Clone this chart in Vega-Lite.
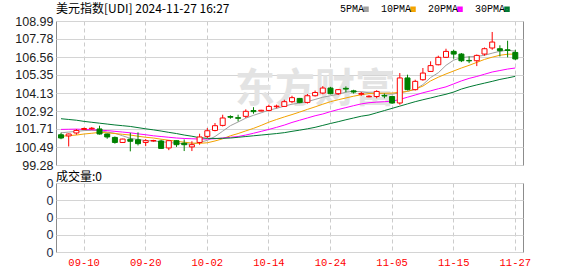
{
  "$schema": "https://vega.github.io/schema/vega-lite/v6.json",
  "background": "white",
  "padding": {"left": 0, "top": 2, "right": 0, "bottom": 0},
  "autosize": {"type": "pad"},
  "spacing": -2,
  "config": {
    "view": {"stroke": "#8c8c8c", "strokeWidth": 1},
    "legend": {"orient": "none"}
  },
  "datasets": {
    "k": [
      {"d":"09-05","o":101.32,"h":101.46,"l":101.02,"c":101.10,"5PMA":101.45,"10PMA":101.21,"20PMA":101.68,"30PMA":102.40,"v":0},
      {"d":"09-06","o":101.24,"h":101.40,"l":100.53,"c":101.37,"5PMA":101.50,"10PMA":101.26,"20PMA":101.69,"30PMA":102.35,"v":0},
      {"d":"09-09","o":101.44,"h":101.70,"l":101.32,"c":101.61,"5PMA":101.55,"10PMA":101.30,"20PMA":101.70,"30PMA":102.30,"v":0},
      {"d":"09-10","o":101.68,"h":101.80,"l":101.65,"c":101.74,"5PMA":101.60,"10PMA":101.37,"20PMA":101.68,"30PMA":102.22,"v":0},
      {"d":"09-11","o":101.72,"h":101.84,"l":101.66,"c":101.76,"5PMA":101.62,"10PMA":101.42,"20PMA":101.66,"30PMA":102.16,"v":0},
      {"d":"09-12","o":101.71,"h":101.93,"l":101.33,"c":101.37,"5PMA":101.60,"10PMA":101.48,"20PMA":101.63,"30PMA":102.10,"v":0},
      {"d":"09-13","o":101.37,"h":101.40,"l":101.05,"c":101.17,"5PMA":101.50,"10PMA":101.45,"20PMA":101.60,"30PMA":102.04,"v":0},
      {"d":"09-16","o":101.14,"h":101.20,"l":100.72,"c":100.80,"5PMA":101.42,"10PMA":101.40,"20PMA":101.55,"30PMA":101.98,"v":0},
      {"d":"09-17","o":100.80,"h":101.05,"l":100.78,"c":101.03,"5PMA":101.25,"10PMA":101.35,"20PMA":101.50,"30PMA":101.93,"v":0},
      {"d":"09-18","o":101.02,"h":101.45,"l":100.20,"c":100.88,"5PMA":101.08,"10PMA":101.30,"20PMA":101.45,"30PMA":101.88,"v":0},
      {"d":"09-19","o":100.98,"h":101.48,"l":100.60,"c":100.72,"5PMA":101.00,"10PMA":101.22,"20PMA":101.38,"30PMA":101.80,"v":0},
      {"d":"09-20","o":100.80,"h":101.03,"l":100.55,"c":100.92,"5PMA":100.93,"10PMA":101.15,"20PMA":101.32,"30PMA":101.72,"v":0},
      {"d":"09-23","o":100.90,"h":100.98,"l":100.85,"c":100.93,"5PMA":100.90,"10PMA":101.10,"20PMA":101.25,"30PMA":101.65,"v":0},
      {"d":"09-24","o":100.90,"h":100.98,"l":100.38,"c":100.40,"5PMA":100.85,"10PMA":101.02,"20PMA":101.20,"30PMA":101.57,"v":0},
      {"d":"09-25","o":100.43,"h":100.95,"l":100.28,"c":100.92,"5PMA":100.80,"10PMA":100.95,"20PMA":101.15,"30PMA":101.48,"v":0},
      {"d":"09-26","o":100.92,"h":100.95,"l":100.50,"c":100.65,"5PMA":100.75,"10PMA":100.88,"20PMA":101.10,"30PMA":101.40,"v":0},
      {"d":"09-27","o":100.75,"h":101.00,"l":100.22,"c":100.65,"5PMA":100.72,"10PMA":100.82,"20PMA":101.07,"30PMA":101.30,"v":0},
      {"d":"09-30","o":100.50,"h":100.88,"l":100.22,"c":100.65,"5PMA":100.68,"10PMA":100.76,"20PMA":101.05,"30PMA":101.22,"v":0},
      {"d":"10-01","o":100.80,"h":101.39,"l":100.65,"c":101.17,"5PMA":100.81,"10PMA":100.74,"20PMA":101.03,"30PMA":101.12,"v":0},
      {"d":"10-02","o":101.21,"h":101.77,"l":101.10,"c":101.59,"5PMA":100.94,"10PMA":100.78,"20PMA":101.03,"30PMA":101.08,"v":0},
      {"d":"10-03","o":101.61,"h":102.11,"l":101.55,"c":101.93,"5PMA":101.20,"10PMA":100.90,"20PMA":101.05,"30PMA":101.07,"v":0},
      {"d":"10-04","o":101.95,"h":102.67,"l":101.88,"c":102.45,"5PMA":101.56,"10PMA":101.05,"20PMA":101.10,"30PMA":101.08,"v":0},
      {"d":"10-07","o":102.55,"h":102.63,"l":102.40,"c":102.50,"5PMA":101.93,"10PMA":101.25,"20PMA":101.15,"30PMA":101.10,"v":0},
      {"d":"10-08","o":102.47,"h":102.67,"l":102.22,"c":102.43,"5PMA":102.18,"10PMA":101.40,"20PMA":101.20,"30PMA":101.15,"v":0},
      {"d":"10-09","o":102.56,"h":103.03,"l":102.45,"c":102.90,"5PMA":102.44,"10PMA":101.58,"20PMA":101.30,"30PMA":101.20,"v":0},
      {"d":"10-10","o":102.95,"h":103.18,"l":102.74,"c":102.88,"5PMA":102.63,"10PMA":101.75,"20PMA":101.42,"30PMA":101.25,"v":0},
      {"d":"10-11","o":102.92,"h":103.00,"l":102.90,"c":102.97,"5PMA":102.80,"10PMA":101.95,"20PMA":101.55,"30PMA":101.30,"v":0},
      {"d":"10-14","o":102.96,"h":103.35,"l":102.90,"c":103.23,"5PMA":102.98,"10PMA":102.17,"20PMA":101.68,"30PMA":101.35,"v":0},
      {"d":"10-15","o":103.21,"h":103.35,"l":103.10,"c":103.25,"5PMA":103.10,"10PMA":102.35,"20PMA":101.82,"30PMA":101.40,"v":0},
      {"d":"10-16","o":103.23,"h":103.68,"l":103.19,"c":103.55,"5PMA":103.25,"10PMA":102.52,"20PMA":101.97,"30PMA":101.46,"v":0},
      {"d":"10-17","o":103.55,"h":103.95,"l":103.45,"c":103.82,"5PMA":103.38,"10PMA":102.68,"20PMA":102.15,"30PMA":101.55,"v":0},
      {"d":"10-18","o":103.77,"h":103.80,"l":103.45,"c":103.50,"5PMA":103.45,"10PMA":102.85,"20PMA":102.30,"30PMA":101.63,"v":0},
      {"d":"10-21","o":103.50,"h":104.07,"l":103.42,"c":103.95,"5PMA":103.55,"10PMA":103.03,"20PMA":102.45,"30PMA":101.72,"v":0},
      {"d":"10-22","o":103.95,"h":104.30,"l":103.90,"c":104.17,"5PMA":103.70,"10PMA":103.20,"20PMA":102.60,"30PMA":101.82,"v":0},
      {"d":"10-23","o":104.13,"h":104.60,"l":104.05,"c":104.47,"5PMA":103.85,"10PMA":103.38,"20PMA":102.72,"30PMA":101.95,"v":0},
      {"d":"10-24","o":104.47,"h":104.55,"l":104.05,"c":104.09,"5PMA":103.95,"10PMA":103.55,"20PMA":102.88,"30PMA":102.08,"v":0},
      {"d":"10-25","o":104.09,"h":104.40,"l":104.00,"c":104.36,"5PMA":104.05,"10PMA":103.68,"20PMA":103.02,"30PMA":102.20,"v":0},
      {"d":"10-28","o":104.45,"h":104.58,"l":104.18,"c":104.40,"5PMA":104.20,"10PMA":103.80,"20PMA":103.15,"30PMA":102.33,"v":0},
      {"d":"10-29","o":104.28,"h":104.35,"l":104.10,"c":104.20,"5PMA":104.25,"10PMA":103.92,"20PMA":103.28,"30PMA":102.45,"v":0},
      {"d":"10-30","o":104.05,"h":104.20,"l":103.95,"c":104.10,"5PMA":104.22,"10PMA":104.02,"20PMA":103.40,"30PMA":102.57,"v":0},
      {"d":"10-31","o":103.88,"h":103.98,"l":103.85,"c":103.92,"5PMA":104.15,"10PMA":104.10,"20PMA":103.48,"30PMA":102.65,"v":0},
      {"d":"11-01","o":103.90,"h":104.32,"l":103.78,"c":104.24,"5PMA":104.12,"10PMA":104.12,"20PMA":103.52,"30PMA":102.80,"v":0},
      {"d":"11-04","o":103.97,"h":104.10,"l":103.78,"c":103.93,"5PMA":104.08,"10PMA":104.12,"20PMA":103.55,"30PMA":102.95,"v":0},
      {"d":"11-05","o":103.90,"h":103.95,"l":103.40,"c":103.46,"5PMA":104.05,"10PMA":104.13,"20PMA":103.58,"30PMA":103.10,"v":0},
      {"d":"11-06","o":103.46,"h":105.48,"l":103.35,"c":105.15,"5PMA":104.15,"10PMA":104.18,"20PMA":103.70,"30PMA":103.25,"v":0},
      {"d":"11-07","o":105.15,"h":105.37,"l":104.31,"c":104.36,"5PMA":104.25,"10PMA":104.24,"20PMA":103.85,"30PMA":103.40,"v":0},
      {"d":"11-08","o":104.36,"h":105.03,"l":104.30,"c":104.92,"5PMA":104.38,"10PMA":104.40,"20PMA":104.00,"30PMA":103.55,"v":0},
      {"d":"11-11","o":105.03,"h":105.82,"l":104.96,"c":105.48,"5PMA":104.70,"10PMA":104.60,"20PMA":104.15,"30PMA":103.68,"v":0},
      {"d":"11-12","o":105.59,"h":106.27,"l":105.55,"c":105.98,"5PMA":105.18,"10PMA":104.95,"20PMA":104.28,"30PMA":103.80,"v":0},
      {"d":"11-13","o":106.04,"h":106.65,"l":106.00,"c":106.54,"5PMA":105.50,"10PMA":105.20,"20PMA":104.42,"30PMA":103.93,"v":0},
      {"d":"11-14","o":106.54,"h":107.12,"l":106.50,"c":106.94,"5PMA":106.00,"10PMA":105.42,"20PMA":104.55,"30PMA":104.05,"v":0},
      {"d":"11-15","o":106.94,"h":107.05,"l":106.45,"c":106.76,"5PMA":106.35,"10PMA":105.62,"20PMA":104.75,"30PMA":104.20,"v":0},
      {"d":"11-18","o":106.76,"h":106.83,"l":106.22,"c":106.31,"5PMA":106.52,"10PMA":105.82,"20PMA":104.95,"30PMA":104.40,"v":0},
      {"d":"11-19","o":106.33,"h":106.60,"l":106.15,"c":106.30,"5PMA":106.58,"10PMA":106.00,"20PMA":105.12,"30PMA":104.55,"v":0},
      {"d":"11-20","o":106.31,"h":106.73,"l":105.95,"c":106.67,"5PMA":106.60,"10PMA":106.20,"20PMA":105.25,"30PMA":104.68,"v":0},
      {"d":"11-21","o":106.76,"h":107.20,"l":106.65,"c":107.12,"5PMA":106.68,"10PMA":106.40,"20PMA":105.40,"30PMA":104.80,"v":0},
      {"d":"11-22","o":107.17,"h":108.25,"l":107.05,"c":107.57,"5PMA":106.82,"10PMA":106.55,"20PMA":105.55,"30PMA":104.92,"v":0},
      {"d":"11-25","o":107.12,"h":107.35,"l":106.60,"c":106.99,"5PMA":106.95,"10PMA":106.68,"20PMA":105.65,"30PMA":105.05,"v":0},
      {"d":"11-26","o":107.05,"h":107.66,"l":106.54,"c":107.00,"5PMA":107.02,"10PMA":106.75,"20PMA":105.75,"30PMA":105.15,"v":0},
      {"d":"11-27","o":106.87,"h":107.05,"l":106.35,"c":106.43,"5PMA":106.95,"10PMA":106.76,"20PMA":105.82,"30PMA":105.26,"v":0}
    ],
    "wm": [{"d": "10-22", "y": 104.35, "t": "东方财富"}]
  },
  "vconcat": [
    {
      "width": 467,
      "height": 144,
      "data": {"name": "k"},
      "title": {"text": "美元指数[UDI] 2024-11-27 16:27", "anchor": "start", "frame": "group", "font": "Noto Sans CJK SC", "fontSize": 12, "fontWeight": "normal", "color": "#000000", "offset": -1},
      "encoding": {
        "x": {
          "field": "d", "type": "ordinal", "title": null,
          "scale": {"type": "band", "paddingInner": 0, "paddingOuter": 0.325, "align": 0.23, "domain": ["09-05","09-06","09-09","09-10","09-11","09-12","09-13","09-16","09-17","09-18","09-19","09-20","09-23","09-24","09-25","09-26","09-27","09-30","10-01","10-02","10-03","10-04","10-07","10-08","10-09","10-10","10-11","10-14","10-15","10-16","10-17","10-18","10-21","10-22","10-23","10-24","10-25","10-28","10-29","10-30","10-31","11-01","11-04","11-05","11-06","11-07","11-08","11-11","11-12","11-13","11-14","11-15","11-18","11-19","11-20","11-21","11-22","11-25","11-26","11-27"]},
          "axis": {"values": ["09-10","09-20","10-02","10-14","10-24","11-05","11-15","11-27"], "labels": false, "ticks": false, "domain": false, "grid": true, "gridDash": [4, 3], "gridColor": "#cccccc", "bandPosition": 0.5, "minExtent": 0, "maxExtent": 0}
        },
        "y": {
          "field": "l", "type": "quantitative", "title": null,
          "scale": {"domain": [99.28, 108.99], "nice": false, "zero": false},
          "axis": {"values": [99.28, 100.49, 101.71, 102.92, 104.13, 105.35, 106.56, 107.78, 108.99], "format": ".2f", "grid": true, "gridColor": "#d4d4d4", "domain": false, "ticks": false, "labelPadding": 3, "labelFont": "Liberation Sans", "labelFontSize": 12.5, "labelColor": "#1c1c1c", "labelFlush": false, "labelOverlap": false, "minExtent": 55, "maxExtent": 55}
        }
      },
      "layer": [
        {
          "data": {"name": "wm"},
          "mark": {"type": "text", "font": "Noto Sans CJK SC", "fontSize": 40, "fontWeight": "bold", "color": "#e3e3e3"},
          "encoding": {
            "y": {"field": "y", "type": "quantitative"},
            "text": {"field": "t"}
          }
        },
        {
          "transform": [{"fold": ["5PMA", "10PMA", "20PMA", "30PMA"], "as": ["ma", "val"]}],
          "mark": {"type": "line", "strokeWidth": 1},
          "encoding": {
            "y": {"field": "val", "type": "quantitative"},
            "color": {
              "field": "ma", "type": "nominal",
              "scale": {"domain": ["5PMA", "10PMA", "20PMA", "30PMA"], "range": ["#a0a0a0", "#f4a300", "#ff00ff", "#007a33"]},
              "legend": {"title": null, "orient": "none", "legendX": 305, "legendY": -17, "direction": "horizontal", "symbolType": "square", "symbolSize": 9, "symbolStrokeWidth": 2.5, "labelFont": "Liberation Mono", "labelFontSize": 10, "labelColor": "#000000", "labelAlign": "right", "labelOffset": -7, "columnPadding": 7, "padding": 0}
            }
          }
        },
        {
          "mark": {"type": "rule", "strokeWidth": 1},
          "encoding": {
            "y2": {"field": "h"},
            "color": {"condition": {"test": "datum.c >= datum.o", "value": "#ff0000"}, "value": "#008000"}
          }
        },
        {
          "mark": {"type": "bar", "width": 5, "strokeWidth": 1},
          "encoding": {
            "y": {"field": "o", "type": "quantitative"},
            "y2": {"field": "c"},
            "fill": {"condition": {"test": "datum.c >= datum.o", "value": "#ffffff"}, "value": "#008000"},
            "stroke": {"condition": {"test": "datum.c >= datum.o", "value": "#ff0000"}, "value": "#008000"}
          }
        }
      ]
    },
    {
      "width": 467,
      "height": 69,
      "data": {"name": "k"},
      "title": {"text": "成交量:0", "anchor": "start", "frame": "group", "font": "Noto Sans CJK SC", "fontSize": 12, "fontWeight": "normal", "color": "#000000", "offset": -7},
      "mark": {"type": "bar", "width": 5},
      "encoding": {
        "x": {
          "field": "d", "type": "ordinal", "title": null,
          "scale": {"type": "band", "paddingInner": 0, "paddingOuter": 0.325, "align": 0.23, "domain": ["09-05","09-06","09-09","09-10","09-11","09-12","09-13","09-16","09-17","09-18","09-19","09-20","09-23","09-24","09-25","09-26","09-27","09-30","10-01","10-02","10-03","10-04","10-07","10-08","10-09","10-10","10-11","10-14","10-15","10-16","10-17","10-18","10-21","10-22","10-23","10-24","10-25","10-28","10-29","10-30","10-31","11-01","11-04","11-05","11-06","11-07","11-08","11-11","11-12","11-13","11-14","11-15","11-18","11-19","11-20","11-21","11-22","11-25","11-26","11-27"]},
          "axis": {"values": ["09-10","09-20","10-02","10-14","10-24","11-05","11-15","11-27"], "labelColor": "#ff0000", "labelFont": "Liberation Mono", "labelFontSize": 10.5, "labelPadding": 5, "labelAngle": 0, "ticks": false, "domain": false, "grid": true, "gridDash": [4, 3], "gridColor": "#cccccc", "bandPosition": 0.5}
        },
        "y": {
          "field": "v", "type": "quantitative", "title": null,
          "scale": {"domain": [0, 4], "nice": false, "zero": true},
          "axis": {"values": [0, 1, 2, 3, 4], "labelExpr": "'0'", "grid": true, "gridColor": "#d4d4d4", "domain": false, "ticks": false, "labelPadding": 3, "labelFont": "Liberation Sans", "labelFontSize": 12.5, "labelColor": "#1c2a44", "labelFlush": false, "labelOverlap": false, "minExtent": 55, "maxExtent": 55}
        },
        "color": {"value": "#008000"}
      }
    }
  ]
}
